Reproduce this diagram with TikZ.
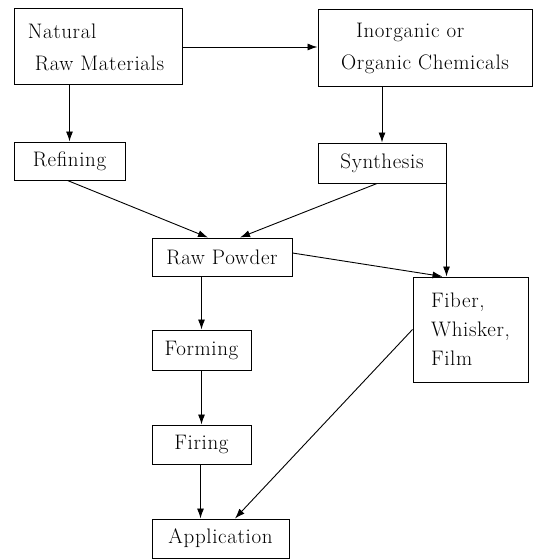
\documentclass[tikz,border=0pt]{standalone}
\usepackage{fontspec}
\setmainfont{Latin Modern Roman}[LetterSpace=3]
\usetikzlibrary{arrows.meta,calc}
\begin{document}
\begin{tikzpicture}[x=1pt,y=-1pt,
  box/.style={draw,line width=1pt,rectangle,inner sep=0pt,align=left,
    font=\fontsize{21}{32}\selectfont},
  conn/.style={line width=0.9pt,-{Latex[length=10pt,width=7pt]}}]
\useasboundingbox (0,0) rectangle (535,559);
\node[box,minimum width=168pt,minimum height=76pt] (nat) at (98,47) {\hspace{-4pt}Natural\\\hspace{3pt}Raw Materials};
\node[box,minimum width=214pt,minimum height=77pt] (inorg) at (425,48.5) {\hspace{15pt}Inorganic or\\Organic Chemicals};
\node[box,minimum width=111pt,minimum height=38pt] (ref) at (69.5,161) {Refining};
\node[box,minimum width=128pt,minimum height=40pt] (syn) at (382,163) {Synthesis};
\node[box,minimum width=140pt,minimum height=38pt] (raw) at (222,257) {Raw Powder};
\node[box,minimum width=115pt,minimum height=105pt,font=\fontsize{21}{29}\selectfont] (fib) at (470.5,329.5) {Fiber,\\Whisker,\\Film};
\node[box,minimum width=99pt,minimum height=40pt] (form) at (201.5,350) {Forming};
\node[box,minimum width=99pt,minimum height=39pt] (fir) at (201.5,444.5) {Firing};
\node[box,minimum width=137pt,minimum height=39pt] (app) at (220.5,538.5) {Application};

\draw[conn] (nat.east) -- (nat.east -| inorg.west);
\draw[conn] (ref.north |- nat.south) -- (ref.north);
\draw[conn] (syn.north |- inorg.south) -- (syn.north);
\draw[conn] ($(ref.south)+(-2,0)$) -- ($(raw.north)+(-14,0)$);
\draw[conn] ($(syn.south)+(-5,0)$) -- ($(raw.north)+(18,0)$);
\draw[conn] ($(raw.east)+(0,-4)$) -- ($(fib.north west)+(30,0)$);
\draw[conn] ($(syn.south east)$) -- ($(syn.south east |- fib.north)$);
\draw[conn] (form.north |- raw.south) -- (form.north);
\draw[conn] (fir.north |- form.south) -- (fir.north);
\draw[conn] ($(fir.south)+(-1,0)$) -- ($(fir.south |- app.north)+(-1,0)$);
\draw[conn] (fib.west) -- ($(app.north)+(14.5,0)$);
\end{tikzpicture}
\end{document}
